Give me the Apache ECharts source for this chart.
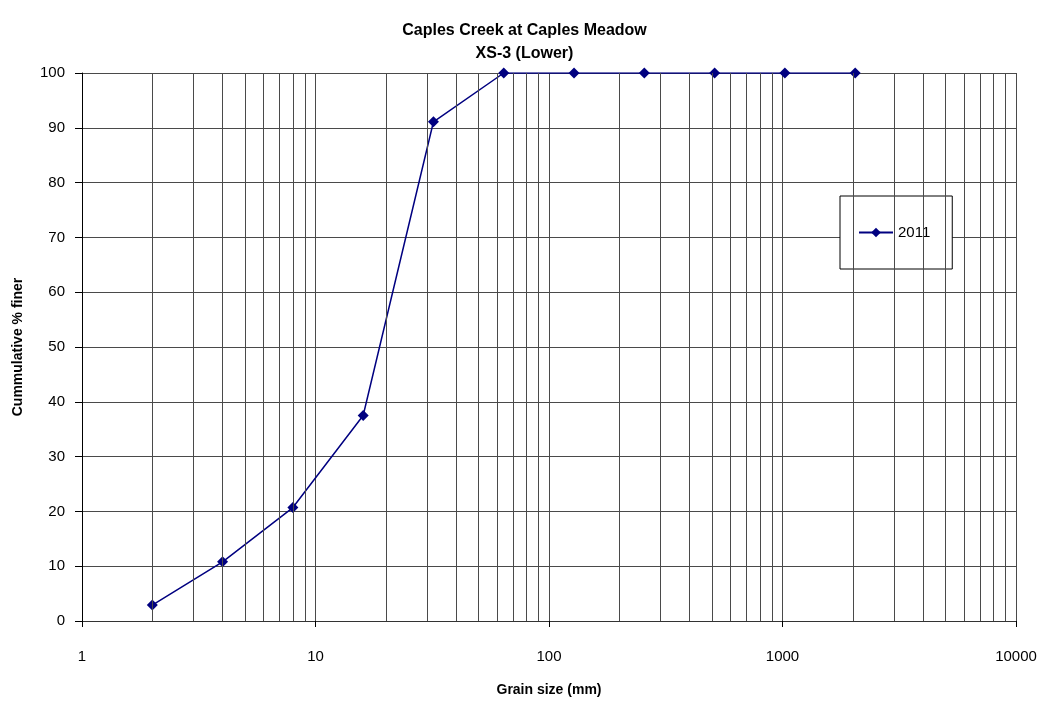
<!DOCTYPE html>
<html>
<head>
<meta charset="utf-8">
<script src="https://cdn.jsdelivr.net/npm/echarts@6/dist/echarts.min.js"></script>
<style>
  html, body { margin: 0; padding: 0; background: #fff; }
  #chart { width: 1049px; height: 702px; }
</style>
</head>
<body>
<div id="chart"></div>
<script>
"use strict";
// grain size (mm) and cumulative % finer
var grainSizes = [2, 4, 8, 16, 32, 64, 128, 256, 512, 1024, 2048];
var percentFiner = [2.9, 10.8, 20.7, 37.5, 91.1, 100, 100, 100, 100, 100, 100];
var seriesName = '2011';
var decades = [1, 10, 100, 1000];
var minorSteps = [2, 3, 4, 5, 6, 7, 8, 9];

function initChart() {
    var myChart = echarts.init(document.getElementById('chart'));
    var pts = [];
    for (let i = 0; i < grainSizes.length; i++) {
        pts.push([grainSizes[i], percentFiner[i]]);
    }
    //minor vertical grid lines of the log axis
    var minorLines = [];
    decades.forEach(d => {
        minorSteps.forEach(k => {
            minorLines.push({ xAxis: d * k });
        });
    });
    var gridColor = '#4a4a4a';
    var font = 'Liberation Sans';
    myChart.setOption({
        animation: false,
        backgroundColor: '#fff',
        title: {
            text: 'Caples Creek at Caples Meadow\nXS-3 (Lower)',
            left: 'center',
            top: 14,
            textStyle: {
                fontFamily: font,
                fontSize: 16,
                fontWeight: 'bold',
                color: '#000',
                lineHeight: 23
            }
        },
        legend: {
            data: [seriesName],
            left: 840,
            top: 196,
            orient: 'vertical',
            padding: [29, 22, 29, 18],
            itemWidth: 34,
            itemHeight: 12,
            itemGap: 6,
            borderColor: '#000',
            borderWidth: 1,
            backgroundColor: '#fff',
            textStyle: { fontFamily: font, fontSize: 15, color: '#000' }
        },
        grid: {
            left: 82,
            right: 33,
            top: 73,
            bottom: 80
        },
        xAxis: {
            type: 'log',
            logBase: 10,
            min: 1,
            max: 10000,
            name: 'Grain size (mm)',
            nameLocation: 'middle',
            nameGap: 62,
            nameTextStyle: { fontFamily: font, fontSize: 14, fontWeight: 'bold', color: '#000' },
            axisLine: { lineStyle: { color: '#333', width: 1 } },
            axisTick: { show: true, length: 6, lineStyle: { color: '#000' } },
            axisLabel: {
                fontFamily: font, fontSize: 15, color: '#000', margin: 28,
                formatter: v => String(Math.round(v))
            },
            splitLine: { show: true, lineStyle: { color: gridColor, width: 1 } }
        },
        yAxis: {
            type: 'value',
            min: 0,
            max: 100,
            interval: 10,
            name: 'Cummulative % finer',
            nameLocation: 'middle',
            nameGap: 57,
            nameTextStyle: { fontFamily: font, fontSize: 14, fontWeight: 'bold', color: '#000' },
            axisLine: { show: true, lineStyle: { color: '#000', width: 1 } },
            axisTick: { show: true, length: 7, lineStyle: { color: '#000' } },
            axisLabel: { fontFamily: font, fontSize: 15, color: '#000', margin: 17 },
            splitLine: { show: true, lineStyle: { color: gridColor, width: 1 } }
        },
        series: [
            {
                name: 'minor',
                type: 'line',
                data: [],
                silent: true,
                z: 1,
                markLine: {
                    silent: true,
                    symbol: 'none',
                    animation: false,
                    label: { show: false },
                    lineStyle: { color: gridColor, width: 1, type: 'solid' },
                    data: minorLines
                }
            },
            {
                name: seriesName,
                type: 'line',
                z: 3,
                data: pts,
                symbol: 'diamond',
                symbolSize: 11,
                color: '#000080',
                lineStyle: { color: '#000080', width: 1.5 },
                itemStyle: { color: '#000080' }
            }
        ]
    });
    return myChart;
}
initChart();
</script>
</body>
</html>
